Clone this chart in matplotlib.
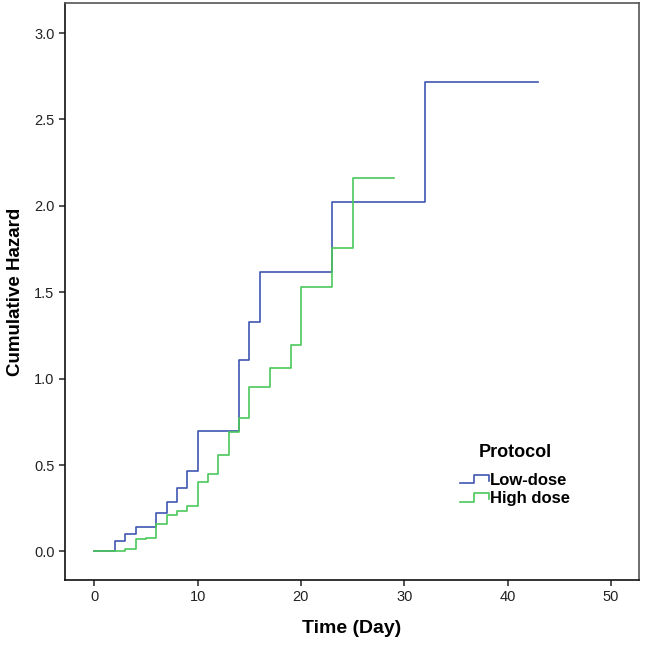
import numpy as np
import matplotlib
matplotlib.use("Agg")
import matplotlib.pyplot as plt
from matplotlib.legend_handler import HandlerBase
from matplotlib.lines import Line2D

plt.rcParams['font.family'] = ['Liberation Sans', 'DejaVu Sans']

# cumulative hazard step values
low_t = [0, 2, 3, 4, 6, 7, 8, 9, 10, 14, 15, 16, 23, 32, 43]
low_h = [0, 0.063, 0.10, 0.143, 0.22, 0.285, 0.37, 0.466, 0.70, 1.108, 1.33, 1.62, 2.024, 2.715, 2.715]
high_t = [0, 3, 4, 5, 6, 7, 8, 9, 10, 11, 12, 13, 14, 15, 17, 19, 20, 23, 25, 29]
high_h = [0, 0.013, 0.07, 0.08, 0.16, 0.21, 0.236, 0.263, 0.40, 0.45, 0.56, 0.69, 0.77,
          0.95, 1.06, 1.195, 1.53, 1.755, 2.163, 2.163]
groups = ['Low-dose', 'High dose']
colors = ['#3f56b0', '#4cc85a']
xticks = [0, 10, 20, 30, 40, 50]
yticks = [0.0, 0.5, 1.0, 1.5, 2.0, 2.5, 3.0]


class StepHandler(HandlerBase):
    # little step shaped key, like the SPSS legend
    def create_artists(self, legend, orig, xd, yd, w, h, fontsize, trans):
        xs = [xd, xd + 0.5 * w, xd + 0.5 * w, xd + w, xd + w]
        ys = [yd + 0.15 * h, yd + 0.15 * h, yd + 0.85 * h, yd + 0.85 * h, yd + 0.35 * h]
        ln = Line2D(xs, ys, color=orig.get_color(), lw=orig.get_linewidth())
        ln.set_transform(trans)
        return [ln]


fig = plt.figure(figsize=(6.45, 6.49), dpi=100)
ax = fig.add_axes([0.1008, 0.1063, 0.8899, 0.8891])

lines = []
for t, hz, c, name in zip([low_t, high_t], [low_h, high_h], colors, groups):
    l, = ax.plot(t, hz, drawstyle='steps-post', color=c, lw=1.2, label=name)
    lines.append(l)

ax.set_xlim(-2.84, 52.73)
ax.set_ylim(-0.165, 3.174)
ax.set_xticks(xticks)
ax.set_yticks(yticks)
ax.set_yticklabels(['%.1f' % v for v in yticks])
ax.tick_params(direction='out', length=4, width=1.1, labelsize=10.5, colors='#222222')

for s in ['left', 'bottom']:
    ax.spines[s].set_linewidth(1.2)
    ax.spines[s].set_color('#111111')
for s in ['top', 'right']:
    ax.spines[s].set_linewidth(1.2)
    ax.spines[s].set_color('#555555')

ax.set_xlabel('Time (Day)', fontsize=14, fontweight='bold', labelpad=11)
ax.set_ylabel('Cumulative Hazard', fontsize=13.5, fontweight='bold', labelpad=7)

leg = ax.legend(handles=lines, handler_map={Line2D: StepHandler()},
                loc='upper left', bbox_to_anchor=(0.674, 0.251), frameon=False,
                borderpad=0, handlelength=1.7, handletextpad=0.1, labelspacing=0.2,
                prop={'weight': 'bold', 'size': 12})
leg.set_title('Protocol', prop={'weight': 'bold', 'size': 13})
leg._legend_box.sep = 9

fig.savefig('out.png', dpi=100)
